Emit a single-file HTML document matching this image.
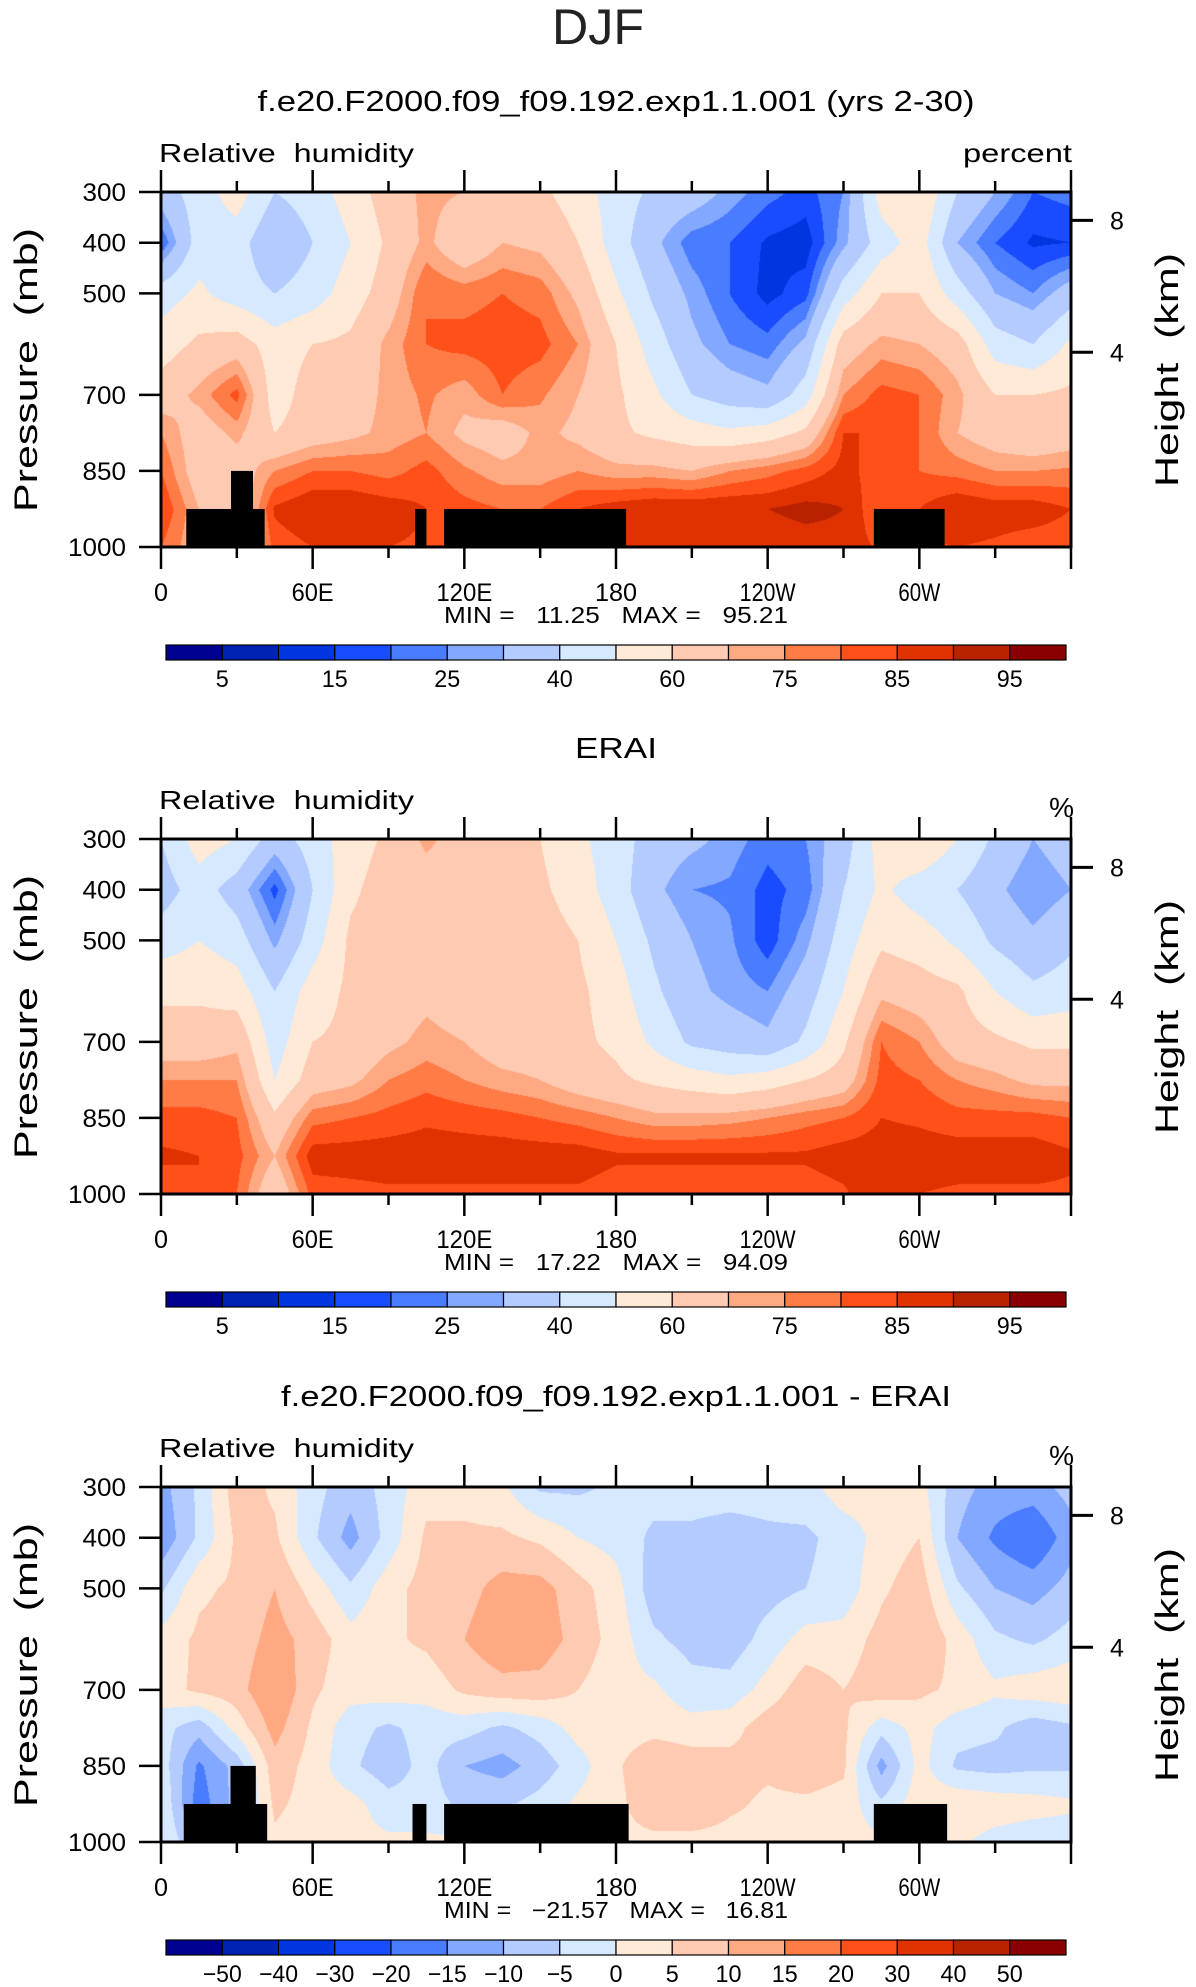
<!DOCTYPE html>
<html><head><meta charset="utf-8">
<style>
html,body{margin:0;padding:0;background:#fff;}
#wrap{position:relative;width:1196px;height:1987px;overflow:hidden;font-family:"Liberation Sans",sans-serif;}
canvas{position:absolute;}
svg{position:absolute;left:0;top:0;}
</style></head>
<body>
<div id="wrap">
<canvas id="c0" width="910" height="355" style="left:161px;top:192px"></canvas>
<canvas id="c1" width="910" height="355" style="left:161px;top:839px"></canvas>
<canvas id="c2" width="910" height="355" style="left:161px;top:1487px"></canvas>
<svg id="svg" width="1196" height="1987"></svg>
</div>
<script>
// ---- data ----
const lons = [0,15,30,45,60,75,90,105,120,135,150,165,180,195,210,225,240,255,270,285,300,315,330,345,360];
const levels = [300,400,500,600,700,775,850,925,1000];
const model = [
[35,20,45,55,65,75,80,85,80],[45,45,52,62,72,65,65,70,70],[55,45,45,65,82,72,65,60,60],[40,30,40,55,55,60,75,86,82],
[45,40,45,60,65,65,80,90,85],[55,50,55,62,65,68,80,90,85],[65,62,65,72,72,72,78,88,85],[72,72,80,80,76,75,82,85,84],
[70,62,78,82,72,68,76,82,82],[68,70,80,83,80,65,72,80,80],[62,68,78,82,76,72,72,80,80],[55,60,68,75,70,68,75,85,84],
[45,45,52,60,62,62,72,88,85],[38,32,38,45,52,58,72,90,85],[35,22,28,32,40,55,70,90,86],[28,20,20,25,35,52,75,90,86],
[22,14,13,22,32,55,78,90,86],[18,12,18,32,45,62,82,92,87],[25,28,45,65,75,85,87,90,88],[55,45,60,72,82,85,82,80,84],
[60,55,60,70,80,80,80,85,84],[40,30,45,65,72,70,78,90,85],[30,20,30,45,60,65,75,88,84],[20,14,25,40,60,62,75,88,82],
[22,15,35,52,62,65,76,85,82]];
const erai = [
[40,35,45,58,65,75,82,86,82],[55,45,50,58,65,75,82,85,85],[50,35,45,55,68,75,80,82,80],[35,18,28,40,45,50,62,70,62],
[45,40,45,55,60,65,78,88,82],[55,58,62,62,62,68,80,88,83],[62,65,65,65,68,75,82,88,84],[72,65,65,68,72,78,84,88,84],
[65,65,65,65,70,75,83,88,84],[65,65,65,65,65,72,82,88,84],[60,62,65,65,65,70,80,88,84],[52,55,60,62,62,65,78,88,84],
[45,45,50,55,58,62,75,86,82],[35,32,38,42,48,58,72,86,82],[32,25,30,32,38,55,72,86,82],[28,24,26,28,35,52,73,86,82],
[22,18,17,25,32,55,75,86,82],[25,22,28,35,42,60,78,86,82],[35,40,45,50,58,65,80,88,84],[55,52,58,68,80,82,85,88,90],
[60,45,55,65,75,80,84,88,85],[50,40,48,62,65,75,82,88,84],[38,32,38,50,62,72,82,88,84],[30,25,32,42,58,68,82,88,84],
[35,30,38,45,58,68,80,86,84]];
const diff = [
[-12,-14,-6,2,3,-3,-2,0,0],[-4,-4,4,6,6,-8,-16,-18,-10],[8,6,6,7,8,2,-8,-8,-4],[4,6,10,12,15,12,8,6,4],
[-3,-4,3,8,6,4,3,3,2],[-8,-12,-4,2,2,-3,-4,2,2],[-3,-3,3,4,3,-6,-8,-3,1],[3,6,7,6,2,-3,-3,-3,1],
[3,6,8,10,6,-3,-10,-6,1],[1,6,12,14,8,-6,-12,-6,1],[-6,4,12,13,8,-3,-8,-3,1],[-6,0,7,8,5,2,-2,1,2],
[-4,-2,2,3,2,2,4,3,3],[-3,-6,-8,-4,1,3,10,10,3],[-3,-6,-8,-7,-3,2,8,10,3],[-3,-7,-8,-8,-3,3,7,6,3],
[-3,-6,-7,-3,2,8,6,4,3],[-2,-6,-5,2,8,10,8,4,2],[3,-3,-3,2,5,6,6,3,2],[2,2,4,7,8,-3,-12,-4,1],
[2,5,8,10,6,2,2,3,2],[-8,-10,-4,3,4,-3,-6,4,1],[-12,-16,-10,-4,1,-4,-7,3,-2],[-12,-20,-12,-6,3,-8,-6,2,-3],
[-8,-12,-8,-3,4,-6,-6,1,-3]];
const absLevels = [5,10,15,20,25,30,40,50,60,70,75,80,85,90,95];
const diffLevels = [-50,-40,-30,-20,-15,-10,-5,0,5,10,15,20,30,40,50];
const colors = ["#000090","#0022b4","#0035e0","#1a4cff","#4a7cff","#83a8ff","#b3cbff","#d6e9ff","#ffe9d7","#ffcab2","#ffa983","#ff7c47","#ff501a","#e03200","#b92200","#8a0000"];
const topo1 = [[10,41,925],[27.7,36.4,850],[100.5,105,925],[112,184,925],[282,310,925]];
const topo3 = [[9,42,925],[27.5,37.5,850],[99.5,105,925],[112,185,925],[282,311,925]];
const xTickLabels = ["0","60E","120E","180","120W","60W"];
const pTicks = [300,400,500,700,850,1000];
const zTicks = [[8,356],[4,616]];

// ---- geometry ----
const PL=161, PW=910, PH=355;
const panelTops=[192,839,1487];
function xOf(lon){return PL+lon/360*PW;}
function yOf(top,p){return top+(p-300)/700*PH;}

function rgb(h){return [parseInt(h.substr(1,2),16),parseInt(h.substr(3,2),16),parseInt(h.substr(5,2),16)];}
const crgb = colors.map(rgb);
function classify(v,lv){let k=0;while(k<lv.length&&v>=lv[k])k++;return k;}

function drawField(id,data,lv){
  const cv=document.getElementById(id), ctx=cv.getContext('2d');
  const img=ctx.createImageData(PW,PH);
  for(let py=0;py<PH;py++){
    const p=300+(py+0.5)/PH*700;
    let j=0;while(j<levels.length-2&&p>levels[j+1])j++;
    const fy=(p-levels[j])/(levels[j+1]-levels[j]);
    for(let px=0;px<PW;px++){
      const lon=(px+0.5)/PW*360;
      let i=0;while(i<lons.length-2&&lon>lons[i+1])i++;
      const fx=(lon-lons[i])/(lons[i+1]-lons[i]);
      const v=(data[i][j]*(1-fx)+data[i+1][j]*fx)*(1-fy)+(data[i][j+1]*(1-fx)+data[i+1][j+1]*fx)*fy;
      const c=crgb[classify(v,lv)];
      const o=(py*PW+px)*4;
      img.data[o]=c[0];img.data[o+1]=c[1];img.data[o+2]=c[2];img.data[o+3]=255;
    }
  }
  ctx.putImageData(img,0,0);
}
drawField('c0',model,absLevels);
drawField('c1',erai,absLevels);
drawField('c2',diff,diffLevels);

const svg=document.getElementById('svg');
const NS='http://www.w3.org/2000/svg';
function el(tag,attrs,text){const e=document.createElementNS(NS,tag);for(const k in attrs)e.setAttribute(k,attrs[k]);if(text!==undefined)e.textContent=text;svg.appendChild(e);return e;}
const S='\u00a0';

let t=el('text',{x:598,y:44,'font-size':50,'text-anchor':'middle',textLength:92,lengthAdjust:'spacingAndGlyphs',fill:'#222'},'DJF');



const titles=[["f.e20.F2000.f09_f09.192.exp1.1.001 (yrs 2-30)",717],["ERAI",82],["f.e20.F2000.f09_f09.192.exp1.1.001 - ERAI",670]];
const minmax=[["11.25","95.21"],["17.22","94.09"],["\u221221.57","16.81"]];

for(let k=0;k<3;k++){
  const top=panelTops[k], off=top-192;
  t=el('text',{x:616,y:111+off,'font-size':29,'text-anchor':'middle',textLength:titles[k][1],lengthAdjust:'spacingAndGlyphs'},titles[k][0]);
  
  
  t=el('text',{x:159,y:162+off,'font-size':26,textLength:255,lengthAdjust:'spacingAndGlyphs'},'Relative'+S+S+'humidity');
  
  
  if(k===0){t=el('text',{x:1072,y:162,'font-size':26,'text-anchor':'end',textLength:109,lengthAdjust:'spacingAndGlyphs'},'percent');}
  else{t=el('text',{x:1074,y:170+off,'font-size':28,'text-anchor':'end'},'%');}
  
  

  const topo = k===0?topo1:(k===2?topo3:[]);
  topo.forEach(b=>{
    const r=el('rect',{x:xOf(b[0]),y:yOf(top,b[2]),width:xOf(b[1])-xOf(b[0]),height:yOf(top,1000)-yOf(top,b[2]),fill:'#000'});
    
    
  });

  const f=el('rect',{x:PL,y:top,width:PW,height:PH,fill:'none',stroke:'#000','stroke-width':3});
  
  

  for(let lon=0;lon<=360;lon+=30){
    const major=lon%60===0, x=xOf(lon), len=major?22:11;
    const a=el('line',{x1:x,y1:top,x2:x,y2:top-len,stroke:'#000','stroke-width':2.5});
    
    
    const b=el('line',{x1:x,y1:top+PH,x2:x,y2:top+PH+len,stroke:'#000','stroke-width':2.5});
    
    
  }
  xTickLabels.forEach((s,i)=>{
    const l=el('text',{x:xOf(i*60),y:top+PH+54,'font-size':25,'text-anchor':'middle',textLength:s.length*14,lengthAdjust:'spacingAndGlyphs'},s);
    
    
  });
  t=el('text',{x:616,y:top+PH+76,'font-size':23,'text-anchor':'middle',textLength:344,lengthAdjust:'spacingAndGlyphs'},'MIN'+S+'='+S+S+S+minmax[k][0]+S+S+S+'MAX'+S+'='+S+S+S+minmax[k][1]);
  
  

  pTicks.forEach(p=>{
    const y=yOf(top,p);
    const a=el('line',{x1:139,y1:y,x2:PL,y2:y,stroke:'#000','stroke-width':2.5});
    
    
    const l=el('text',{x:126,y:y+9,'font-size':25,'text-anchor':'end',textLength:String(p).length*14.5,lengthAdjust:'spacingAndGlyphs'},String(p));
    
    
  });
  zTicks.forEach(z=>{
    const y=yOf(top,z[1]);
    const a=el('line',{x1:PL+PW,y1:y,x2:PL+PW+22,y2:y,stroke:'#000','stroke-width':3});
    
    
    const l=el('text',{x:1110,y:y+9,'font-size':25},String(z[0]));
    
    
  });
  t=el('text',{x:0,y:0,'font-size':32,'text-anchor':'middle',textLength:284,lengthAdjust:'spacingAndGlyphs',transform:`translate(37,${370+off}) rotate(-90)`},'Pressure'+S+S+'(mb)');
  
  
  t=el('text',{x:0,y:0,'font-size':32,'text-anchor':'middle',textLength:234,lengthAdjust:'spacingAndGlyphs',transform:`translate(1178,${370+off}) rotate(-90)`},'Height'+S+S+'(km)');
  
  

  const lv = k===2?diffLevels:absLevels;
  const cbTop=645+off, bw=900/16;
  colors.forEach((c,i)=>{
    const r=el('rect',{x:166+i*bw,y:cbTop,width:bw,height:15,fill:c,stroke:'#000','stroke-width':1.2});
    
    
  });
  lv.forEach((v,i)=>{
    if(k!==2 && i%2===1) return;
    const s=String(v).replace('-','\u2212');
    const l=el('text',{x:166+(i+1)*bw,y:cbTop+42,'font-size':24,'text-anchor':'middle',textLength:s.length*13,lengthAdjust:'spacingAndGlyphs'},s);
    
    
  });
}
</script>
</body></html>
